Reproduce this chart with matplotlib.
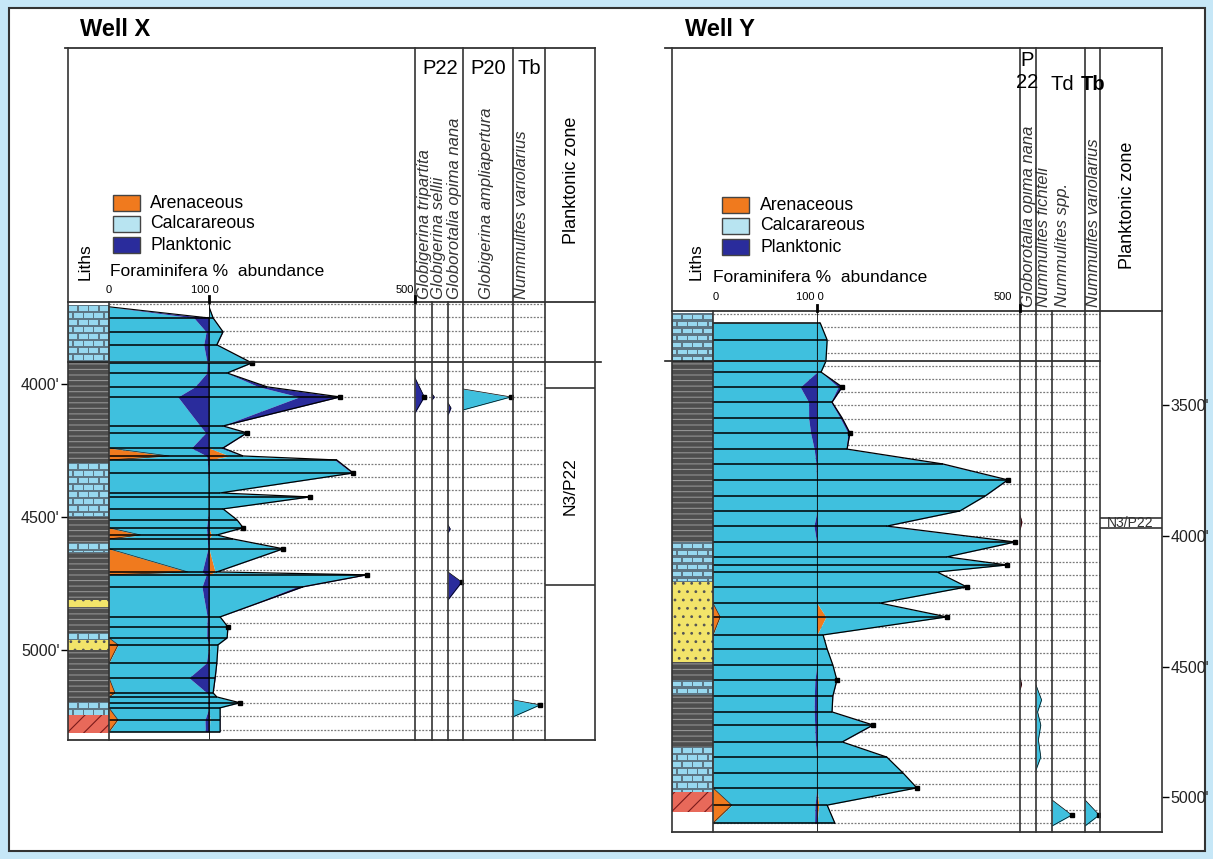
import numpy as np
import matplotlib
matplotlib.use('Agg')
import matplotlib.pyplot as plt
from matplotlib.patches import Rectangle
import matplotlib.transforms as mtransforms

plt.rcParams['font.family'] = ['Liberation Sans', 'DejaVu Sans']
plt.rcParams['hatch.linewidth'] = 0.8

W, H = 1213, 859

ORANGE = '#f07a1e'
CALC = '#3fc0de'
CALC_KEY = '#b8e4f1'
PLANK = '#2a2c9c'
DKRED = '#8a1020'

# ---------------- Well X data ----------------
x_depth = [3710, 3752, 3804, 3853, 3921, 3959, 4011, 4049, 4158, 4184, 4241, 4271,
           4286, 4335, 4410, 4425, 4470, 4511, 4541, 4568, 4583, 4620, 4707, 4718,
           4763, 4876, 4914, 4955, 4981, 5049, 5105, 5162, 5177, 5199, 5218, 5263, 5308]
x_aren = [0, 0, 0, 0, 0, 0, 0, 0, 0, 0, 0, 50,
          0, 0, 0, 0, 0, 0, 0, 6, 0, 0, 15, 0,
          0, 0, 0, 0, 2, 0, 0, 0.6, 0, 0, 0, 2.4, 0]
x_calc = [0, 8.5, 33, 18, 102, 43, 121, 219, 31, 89, 28, 31,
          305, 347, 27, 243, 34, 67, 81, 12.6, 57, 178, 2.7, 372,
          212, 26.5, 45, 43, 20, 18.5, 12, 9.2, 19, 74, 27, 23.5, 26]
x_plank = [0, 1.5, 1, 1, 2, 1, 20, 99, 3, 3, 6, 2,
           5, 3, 0, 2, 0, 1, 2, 0.4, 1, 2, 1.3, 11,
           16, 0.5, 1, 1, 0, 0.5, 3, 0.2, 0, 1, 0, 1.1, 1]

x_lith_top = [3703, 3917, 4297, 4500, 4598, 4635, 4812, 4838, 4936, 4963, 5000, 5196, 5245]
x_lith_base = [3917, 4297, 4500, 4598, 4635, 4812, 4838, 4936, 4963, 5000, 5196, 5245, 5312]
x_lith_kind = ['lime', 'shale', 'lime', 'shale', 'lime', 'shale', 'sand', 'shale',
               'lime', 'sand', 'shale', 'lime', 'red']

x_species = ['Globigerina tripartita', 'Globigerina sellii', 'Globorotalia opima nana',
             'Globigerina ampliapertura', 'Nummulites variolarius']
x_sp_depth = [[[3977, 4049, 4109]],
              [[4037, 4049, 4060]],
              [[4071, 4090, 4117], [4530, 4545, 4560], [4707, 4745, 4812]],
              [[4019, 4049, 4098]],
              [[5188, 5207, 5252]]]
x_sp_val = [[[0, 0.55, 0]],
            [[0, 0.15, 0]],
            [[0, 0.2, 0], [0, 0.15, 0], [0, 0.92, 0]],
            [[0, 0.96, 0]],
            [[0, 0.85, 0]]]
x_sp_color = [PLANK, PLANK, PLANK, CALC, CALC]
x_zone_bounds = [4015, 4756]
x_zone_label = 'N3/P22'
x_boundary = 3917
x_depth_ticks = [4000, 4500, 5000]

# ---------------- Well Y data ----------------
y_depth = [3184, 3249, 3330, 3372, 3429, 3487, 3548, 3605, 3667, 3724, 3785, 3847,
           3904, 3962, 4023, 4080, 4111, 4138, 4195, 4257, 4310, 4379, 4433, 4494,
           4552, 4613, 4674, 4724, 4789, 4847, 4908, 4965, 5031, 5100]
y_aren = [0, 0, 0, 0, 0, 0, 0, 0, 0, 0, 0, 0,
          0, 0, 0, 0, 0, 0, 0, 0, 22, 0, 0, 0,
          0, 0, 0, 0, 0, 0, 0, 0, 4.5, 0]
y_calc = [8, 25, 22, 10, 52, 34, 57, 76, 72, 307, 468, 413,
          352, 167, 486, 319, 467, 296, 369, 155, 298, 15, 25, 39,
          48, 38, 36, 135, 61, 172, 212, 246, 20, 43]
y_plank = [0, 0, 0, 0, 10, 3, 5, 5, 2, 3, 2, 1,
           0, 5, 2, 1, 1, 0, 0, 0, 0, 0, 0, 0,
           1, 1, 1, 3, 1, 0, 0, 0, 0.5, 1]

y_lith_top = [3146, 3330, 4023, 4176, 4483, 4552, 4609, 4808, 4981]
y_lith_base = [3330, 4023, 4176, 4483, 4552, 4609, 4808, 4981, 5057]
y_lith_kind = ['lime', 'shale', 'lime', 'sand', 'shale', 'lime', 'shale', 'lime', 'red']

y_species = ['Globorotalia opima nana', 'Nummulites fichteli', 'Nummulites spp.',
             'Nummulites variolarius']
y_sp_depth = [[[3920, 3946, 3977], [4544, 4567, 4590]],
              [[4571, 4628, 4674, 4724, 4781, 4847, 4896]],
              [[5011, 5069, 5111]],
              [[5011, 5069, 5111]]]
y_sp_val = [[[0, 0.12, 0], [0, 0.1, 0]],
            [[0, 0.35, 0.1, 0.3, 0.15, 0.3, 0]],
            [[0, 0.6, 0]],
            [[0, 0.95, 0]]]
y_sp_color = [DKRED, CALC, CALC, CALC]
y_zone_bounds = [3931, 3969]
y_zone_label = 'N3/P22'
y_boundary = 3330
y_depth_ticks = [3500, 4000, 4500, 5000]

fig = plt.figure(figsize=(W / 100, H / 100), dpi=100)
fig.patch.set_facecolor('#c6e7f7')

bg = fig.add_axes([0, 0, 1, 1])
bg.set_xlim(0, W)
bg.set_ylim(H, 0)
bg.axis('off')
bg.add_patch(Rectangle((9, 8), 1196, 843, fc='white', ec='#333333', lw=1.5))


def px_axes(x0, y0, x1, y1):
    ax = fig.add_axes([x0 / W, 1 - y1 / H, (x1 - x0) / W, (y1 - y0) / H])
    ax.set_facecolor('none')
    for s in ax.spines.values():
        s.set_visible(False)
    ax.set_xticks([])
    ax.set_yticks([])
    return ax


def draw_lith(ax, tops, bases, kinds, ftpx):
    for top, base, kind in zip(tops, bases, kinds):
        if kind == 'lime':
            ax.add_patch(Rectangle((0, top), 1, base - top, fc='#5d7684', lw=0))
            row = 7 * ftpx
            n = int(np.ceil((base - top) / row))
            for i in range(n):
                y0 = top + i * row + 1.5 * ftpx
                h = min(4.5 * ftpx, base - y0 - 0.5 * ftpx)
                if h <= 0:
                    continue
                off = 0 if i % 2 == 0 else -0.125
                for j in range(5):
                    bx0 = max(off + j * 0.25 + 0.02, 0.03)
                    bx1 = min(off + j * 0.25 + 0.23, 0.97)
                    if bx1 > bx0:
                        ax.add_patch(Rectangle((bx0, y0), bx1 - bx0, h, fc='#97d8ef', lw=0))
        elif kind == 'shale':
            ax.add_patch(Rectangle((0, top), 1, base - top, fc='#4e4e4e', ec='#929292',
                                   hatch='---', lw=0))
        elif kind == 'sand':
            ax.add_patch(Rectangle((0, top), 1, base - top, fc='#f2e46a', ec='#555555',
                                   hatch='..', lw=0))
        elif kind == 'red':
            ax.add_patch(Rectangle((0, top), 1, base - top, fc='#e8695a', ec='#7a1a1a',
                                   hatch='//', lw=0))


def draw_well(g, depth, aren, calc, plank, lith, species, sp_depth, sp_val, sp_color,
              zone_bounds, zone_label, boundary, ticks):
    d = np.array(depth, float)
    a = np.array(aren, float)
    c = np.array(calc, float)
    p = np.array(plank, float)
    t = a + c + p
    safe = np.where(t > 0, t, 1)
    pa = np.where(t > 0, a / safe * 100, 0)
    pc = np.where(t > 0, c / safe * 100, 0)
    full = np.where(t > 0, 100, 0)
    dtop, dbot = g['dlim']
    ftpx = (dbot - dtop) / (g['bottom'] - g['head'])
    grid = np.arange(np.ceil(dtop / 50) * 50, dbot, 50)
    dots = dict(colors='#7a7a7a', linestyles=(0, (1.5, 1.2)), lw=0.9, zorder=0)

    def track(x0, x1):
        ax = px_axes(x0, g['head'], x1, g['bottom'])
        ax.set_ylim(dbot, dtop)
        return ax

    # lithology
    lax = track(*g['lith'])
    lax.set_xlim(0, 1)
    draw_lith(lax, *lith, ftpx)

    # percent track
    pax = track(*g['pct'])
    pax.set_xlim(0, 100)
    pax.hlines(grid, 0, 100, **dots)
    pax.fill_betweenx(d, 0, pa, color=ORANGE, lw=0)
    pax.fill_betweenx(d, pa, pa + pc, color=CALC, lw=0)
    pax.fill_betweenx(d, pa + pc, full, color=PLANK, lw=0)
    pax.plot(pa, d, color='#222222', lw=0.5)
    pax.plot(full, d, color='k', lw=0.8)
    pax.hlines(d, 0, full, colors='k', lw=1.1)

    # count track
    cax = track(*g['cnt'])
    cax.set_xlim(0, 500)
    cax.hlines(grid, 0, 500, **dots)
    cax.fill_betweenx(d, 0, a, color=ORANGE, lw=0)
    cax.fill_betweenx(d, a, a + c, color=CALC, lw=0)
    cax.fill_betweenx(d, a + c, t, color=PLANK, lw=0)
    cax.plot(t, d, color='k', lw=0.9)
    cax.hlines(d, 0, t, colors='k', lw=1.1)
    pk = [i for i in range(1, len(t) - 1) if t[i] > t[i - 1] and t[i] > t[i + 1] and t[i] > 40]
    cax.plot(t[pk], d[pk], 's', color='k', ms=3.5)
    cax.axvline(0, color='k', lw=1.2, zorder=5)

    # species columns
    edges = g['sp_edges']
    for k in range(len(species)):
        sax = track(edges[k], edges[k + 1])
        sax.set_xlim(0, 1)
        sax.hlines(grid, 0, 1, **dots)
        for dd, vv in zip(sp_depth[k], sp_val[k]):
            sax.fill_betweenx(dd, 0, vv, color=sp_color[k], lw=0)
            sax.plot(vv, dd, color='k', lw=0.5)
            j = int(np.argmax(vv))
            if vv[j] > 0.5:
                sax.plot(vv[j], dd[j], 's', color='k', ms=3)

    # planktonic zone
    zax = track(*g['zone'])
    zax.set_xlim(0, 1)
    zax.hlines(zone_bounds, 0, 1, colors='#333333', lw=1.2)
    if g['zone_rot']:
        zax.text(0.5, np.mean(zone_bounds), zone_label, rotation=90, ha='center',
                 va='center', fontsize=12.5)
    else:
        zax.text(0.48, np.mean(zone_bounds), zone_label, ha='center', va='center',
                 fontsize=10, color='#333333')

    tax = lax if g['ticks_side'] == 'left' else zax
    tax.set_yticks(ticks)
    tax.set_yticklabels([f"{v}'" for v in ticks])
    if g['ticks_side'] == 'right':
        tax.yaxis.tick_right()
    tax.tick_params(axis='y', direction='out', length=5, width=1, labelsize=11.5,
                    pad=1, labelcolor='#222222')

    # boundary line across the log
    tr = mtransforms.blended_transform_factory(over.transData, lax.transData)
    over.plot(g['boundary_x'], [boundary, boundary], color='#222222', lw=1.2,
              transform=tr)


over = fig.add_axes([0, 0, 1, 1])
over.set_facecolor('none')
over.set_xlim(0, W)
over.set_ylim(H, 0)
over.axis('off')

GX = dict(top=48, head=302, bottom=740, lith=(68, 109), pct=(109, 209), cnt=(209, 415),
          sp_edges=[415, 432, 448, 463, 513, 545], zone=(545, 595), dlim=(3692, 5339),
          zone_rot=True, ticks_side='left', boundary_x=[68, 601])
GY = dict(top=48, head=311, bottom=832, lith=(672, 713), pct=(713, 817), cnt=(817, 1020),
          sp_edges=[1020, 1036, 1052, 1085, 1100], zone=(1100, 1162), dlim=(3138, 5134),
          zone_rot=False, ticks_side='right', boundary_x=[665, 1100])

draw_well(GX, x_depth, x_aren, x_calc, x_plank, (x_lith_top, x_lith_base, x_lith_kind),
          x_species, x_sp_depth, x_sp_val, x_sp_color, x_zone_bounds, x_zone_label,
          x_boundary, x_depth_ticks)
draw_well(GY, y_depth, y_aren, y_calc, y_plank, (y_lith_top, y_lith_base, y_lith_kind),
          y_species, y_sp_depth, y_sp_val, y_sp_color, y_zone_bounds, y_zone_label,
          y_boundary, y_depth_ticks)

# keep the frame / text layer on top of the tracks
fig.delaxes(over)
fig.add_axes(over)

LC = '#333333'


def frame(g, x_left, x_right, full_lines, data_lines, top_from):
    over.plot([top_from, x_right], [g['top'], g['top']], color=LC, lw=1.3)
    over.plot([x_left, x_right], [g['head'], g['head']], color=LC, lw=1.3)
    over.plot([x_left, x_right], [g['bottom'], g['bottom']], color=LC, lw=1.3)
    for x in full_lines:
        over.plot([x, x], [g['top'], g['bottom']], color=LC, lw=1.2)
    for x in data_lines:
        over.plot([x, x], [g['head'], g['bottom']], color=LC, lw=1.2)


frame(GX, 68, 595, [68, 415, 463, 513, 545, 595], [109, 432, 448], 65)
frame(GY, 672, 1162, [672, 1020, 1036, 1085, 1100, 1162], [713, 1052], 665)

# titles
over.text(80, 30, 'Well X', fontsize=17, fontweight='bold', ha='left', va='center')
over.text(685, 30, 'Well Y', fontsize=17, fontweight='bold', ha='left', va='center')


def header(leg_x, leg_y, lab_x, fora_x, fora_y, scale_y, sc0, sc100, sc500, liths_x):
    labels = ['Arenaceous', 'Calcarareous', 'Planktonic']
    cols = [ORANGE, CALC_KEY, PLANK]
    for i in range(3):
        over.add_patch(Rectangle((leg_x, leg_y + i * 21), 27, 16, fc=cols[i], ec='#444444', lw=1))
        over.text(lab_x, leg_y + 8 + i * 21, labels[i], fontsize=12.7, ha='left', va='center')
    over.text(fora_x, fora_y, 'Foraminifera %  abundance', fontsize=12.5, ha='left', va='center')
    over.text(sc0, scale_y, '0', fontsize=8, ha='center', va='center')
    over.text(sc100, scale_y, '100 0', fontsize=8, ha='center', va='center')
    over.text(sc500, scale_y, '500', fontsize=8, ha='center', va='center')
    over.text(liths_x, 262, 'Liths', fontsize=12.5, rotation=90, ha='center', va='center')


header(113, 195, 150, 110, 272, 290, 109, 205, 405, 85)
header(722, 197, 760, 713, 278, 297, 716, 810, 1003, 696)

# scale tick marks
for x, y0, y1 in [(209, 296, 302), (415, 296, 302), (817, 305, 311), (1020, 305, 311)]:
    over.plot([x, x], [y0, y1], color='k', lw=2)

# interval headers
over.text(440, 68, 'P22', fontsize=14.5, ha='center', va='center')
over.text(488, 68, 'P20', fontsize=14.5, ha='center', va='center')
over.text(529, 68, 'Tb', fontsize=14.5, ha='center', va='center')
over.text(1027, 60, 'P', fontsize=14.5, ha='center', va='center')
over.text(1027, 83, '22', fontsize=14.5, ha='center', va='center')
over.text(1062, 84, 'Td', fontsize=14.5, ha='center', va='center')
over.text(1093, 84, 'Tb', fontsize=14.5, fontweight='bold', ha='center', va='center')

# species names
for name, x in zip(x_species, [424, 439, 455, 487, 521]):
    over.text(x, 299, name, rotation=90, fontsize=12, style='italic', ha='center',
              va='bottom', color='#333333')
for name, x in zip(y_species, [1028, 1044, 1063, 1093]):
    over.text(x, 307, name, rotation=90, fontsize=12, style='italic', ha='center',
              va='bottom', color='#333333')

over.text(571, 180, 'Planktonic zone', rotation=90, fontsize=13, ha='center', va='center')
over.text(1128, 205, 'Planktonic zone', rotation=90, fontsize=13, ha='center', va='center')

fig.savefig('out.png', dpi=100, facecolor=fig.get_facecolor())
